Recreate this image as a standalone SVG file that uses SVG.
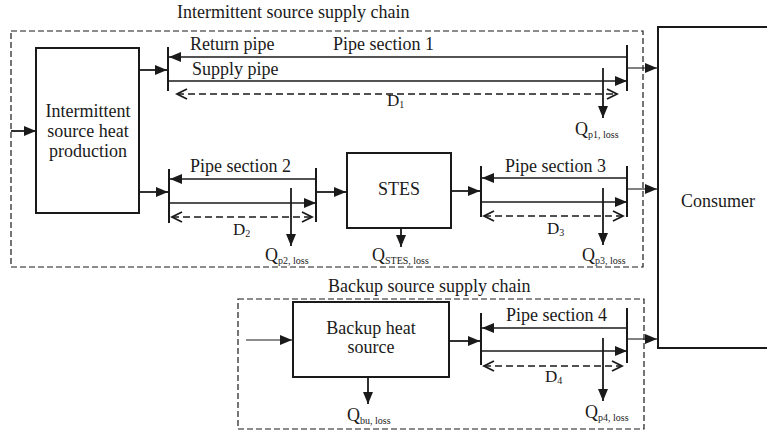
<svg xmlns="http://www.w3.org/2000/svg" width="767" height="434" viewBox="0 0 767 434">
  <style>
    text { font-family: "Liberation Serif", "Times New Roman", serif; font-size: 18px; fill: #1a1a1a; }
    .sub { font-size: 10px; }
    .dlab { font-size: 17px; }
    .mid { text-anchor: middle; }
    .box { fill: #fff; stroke: #1a1a1a; stroke-width: 2; }
    .chain { fill: none; stroke: #1a1a1a; stroke-width: 1.2; stroke-dasharray: 6 3; }
    .bar { stroke: #1a1a1a; stroke-width: 2; }
    .pipe { stroke: #1a1a1a; stroke-width: 1.6; marker-end: url(#arrow); }
    .flow { stroke: #1a1a1a; stroke-width: 1.8; marker-end: url(#arrow); }
    .thin { stroke: #1a1a1a; stroke-width: 1.1; marker-end: url(#arrow); }
    .dist { stroke: #1a1a1a; stroke-width: 1.6; stroke-dasharray: 7 4; marker-start: url(#chev); marker-end: url(#chev); }
    .loss { stroke: #1a1a1a; stroke-width: 1.8; marker-end: url(#arrow); }
  </style>
  <defs>
    <marker id="arrow" markerUnits="userSpaceOnUse" markerWidth="13" markerHeight="11" refX="12" refY="5" orient="auto">
      <path d="M0,0 L12,5 L0,10 z" fill="#1a1a1a"/>
    </marker>
    <marker id="chev" markerUnits="userSpaceOnUse" markerWidth="13" markerHeight="13" refX="11" refY="6" orient="auto-start-reverse">
      <path d="M1,1 L11,6 L1,11" fill="none" stroke="#1a1a1a" stroke-width="1.8"/>
    </marker>
  </defs>

  <!-- supply chain frames -->
  <g id="intermittent-chain">
    <rect class="chain" x="11" y="31" width="632" height="236"/>
    <text x="177" y="18">Intermittent source supply chain</text>
  </g>
  <g id="backup-chain">
    <rect class="chain" x="238" y="299" width="406" height="130"/>
    <text x="328" y="292">Backup source supply chain</text>
  </g>

  <!-- equipment -->
  <g id="intermittent-source">
    <rect class="box" x="36" y="48" width="103" height="165"/>
    <text class="mid" x="88" y="117">Intermittent</text>
    <text class="mid" x="88" y="137">source heat</text>
    <text class="mid" x="88" y="157">production</text>
  </g>
  <g id="stes">
    <rect class="box" x="347" y="153" width="104" height="75"/>
    <text class="mid" x="399" y="195">STES</text>
  </g>
  <g id="backup-source">
    <rect class="box" x="293" y="302" width="156" height="75"/>
    <text class="mid" x="371" y="334">Backup heat</text>
    <text class="mid" x="371" y="353">source</text>
  </g>
  <g id="consumer">
    <rect class="box" x="658" y="27" width="130" height="321"/>
    <text class="mid" x="718" y="207">Consumer</text>
  </g>

  <!-- pipe sections: return line, supply line, length D and heat loss -->
  <g id="pipe-section-1">
    <line class="bar" x1="168" y1="47" x2="168" y2="91"/>
    <line class="bar" x1="627" y1="45" x2="627" y2="91"/>
    <line class="pipe" x1="627" y1="57" x2="169" y2="57"/>
    <line class="pipe" x1="168" y1="81" x2="627" y2="81"/>
    <line class="dist" x1="177" y1="94" x2="617" y2="94"/>
    <line class="loss" x1="603" y1="68" x2="603" y2="118"/>
    <text x="190" y="50">Return pipe</text>
    <text x="192" y="75">Supply pipe</text>
    <text x="333" y="50">Pipe section 1</text>
    <text class="dlab" x="387" y="106">D<tspan class="sub" dy="2">1</tspan></text>
    <text x="575" y="135">Q<tspan class="sub" dy="3">p1, loss</tspan></text>
  </g>
  <g id="pipe-section-2">
    <line class="bar" x1="169" y1="169" x2="169" y2="223"/>
    <line class="bar" x1="316" y1="168" x2="316" y2="222"/>
    <line class="pipe" x1="316" y1="179" x2="170" y2="179"/>
    <line class="pipe" x1="169" y1="203" x2="316" y2="203"/>
    <line class="dist" x1="172" y1="217" x2="312" y2="217"/>
    <line class="loss" x1="291" y1="188" x2="291" y2="246"/>
    <text x="190" y="172">Pipe section 2</text>
    <text class="dlab" x="233" y="235">D<tspan class="sub" dy="2">2</tspan></text>
    <text x="265" y="261">Q<tspan class="sub" dy="3">p2, loss</tspan></text>
  </g>
  <g id="pipe-section-3">
    <line class="bar" x1="481" y1="166" x2="481" y2="217"/>
    <line class="bar" x1="627" y1="166" x2="627" y2="217"/>
    <line class="pipe" x1="627" y1="178" x2="482" y2="178"/>
    <line class="pipe" x1="481" y1="202" x2="627" y2="202"/>
    <line class="dist" x1="484" y1="216" x2="623" y2="216"/>
    <line class="loss" x1="603" y1="188" x2="603" y2="245"/>
    <text x="505" y="172">Pipe section 3</text>
    <text class="dlab" x="547" y="234">D<tspan class="sub" dy="2">3</tspan></text>
    <text x="582" y="261">Q<tspan class="sub" dy="3">p3, loss</tspan></text>
  </g>
  <g id="pipe-section-4">
    <line class="bar" x1="481" y1="313" x2="481" y2="365"/>
    <line class="bar" x1="627" y1="308" x2="627" y2="363"/>
    <line class="pipe" x1="627" y1="328" x2="482" y2="328"/>
    <line class="pipe" x1="481" y1="351" x2="627" y2="351"/>
    <line class="dist" x1="484" y1="366" x2="622" y2="366"/>
    <line class="loss" x1="603" y1="338" x2="603" y2="401"/>
    <text x="506" y="321">Pipe section 4</text>
    <text class="dlab" x="545" y="382">D<tspan class="sub" dy="2">4</tspan></text>
    <text x="585" y="418">Q<tspan class="sub" dy="3">p4, loss</tspan></text>
  </g>

  <!-- storage and backup losses -->
  <g id="stes-loss">
    <line class="loss" x1="401" y1="228" x2="401" y2="247"/>
    <text x="372" y="261">Q<tspan class="sub" dy="3">STES, loss</tspan></text>
  </g>
  <g id="backup-loss">
    <line class="loss" x1="368" y1="377" x2="368" y2="404"/>
    <text x="347" y="421">Q<tspan class="sub" dy="3">bu, loss</tspan></text>
  </g>

  <!-- connectors between equipment and pipe sections -->
  <g id="connectors">
    <line class="flow" x1="11" y1="131" x2="36" y2="131"/>
    <line class="flow" x1="139" y1="70" x2="167" y2="70"/>
    <line class="thin" x1="627" y1="68" x2="657" y2="68"/>
    <line class="flow" x1="139" y1="192" x2="168" y2="192"/>
    <line class="flow" x1="316" y1="192" x2="346" y2="192"/>
    <line class="flow" x1="451" y1="191" x2="480" y2="191"/>
    <line class="thin" x1="627" y1="189" x2="657" y2="189"/>
    <line class="thin" x1="246" y1="340" x2="292" y2="340"/>
    <line class="flow" x1="449" y1="341" x2="480" y2="341"/>
    <line class="thin" x1="627" y1="339" x2="657" y2="339"/>
  </g>
</svg>
